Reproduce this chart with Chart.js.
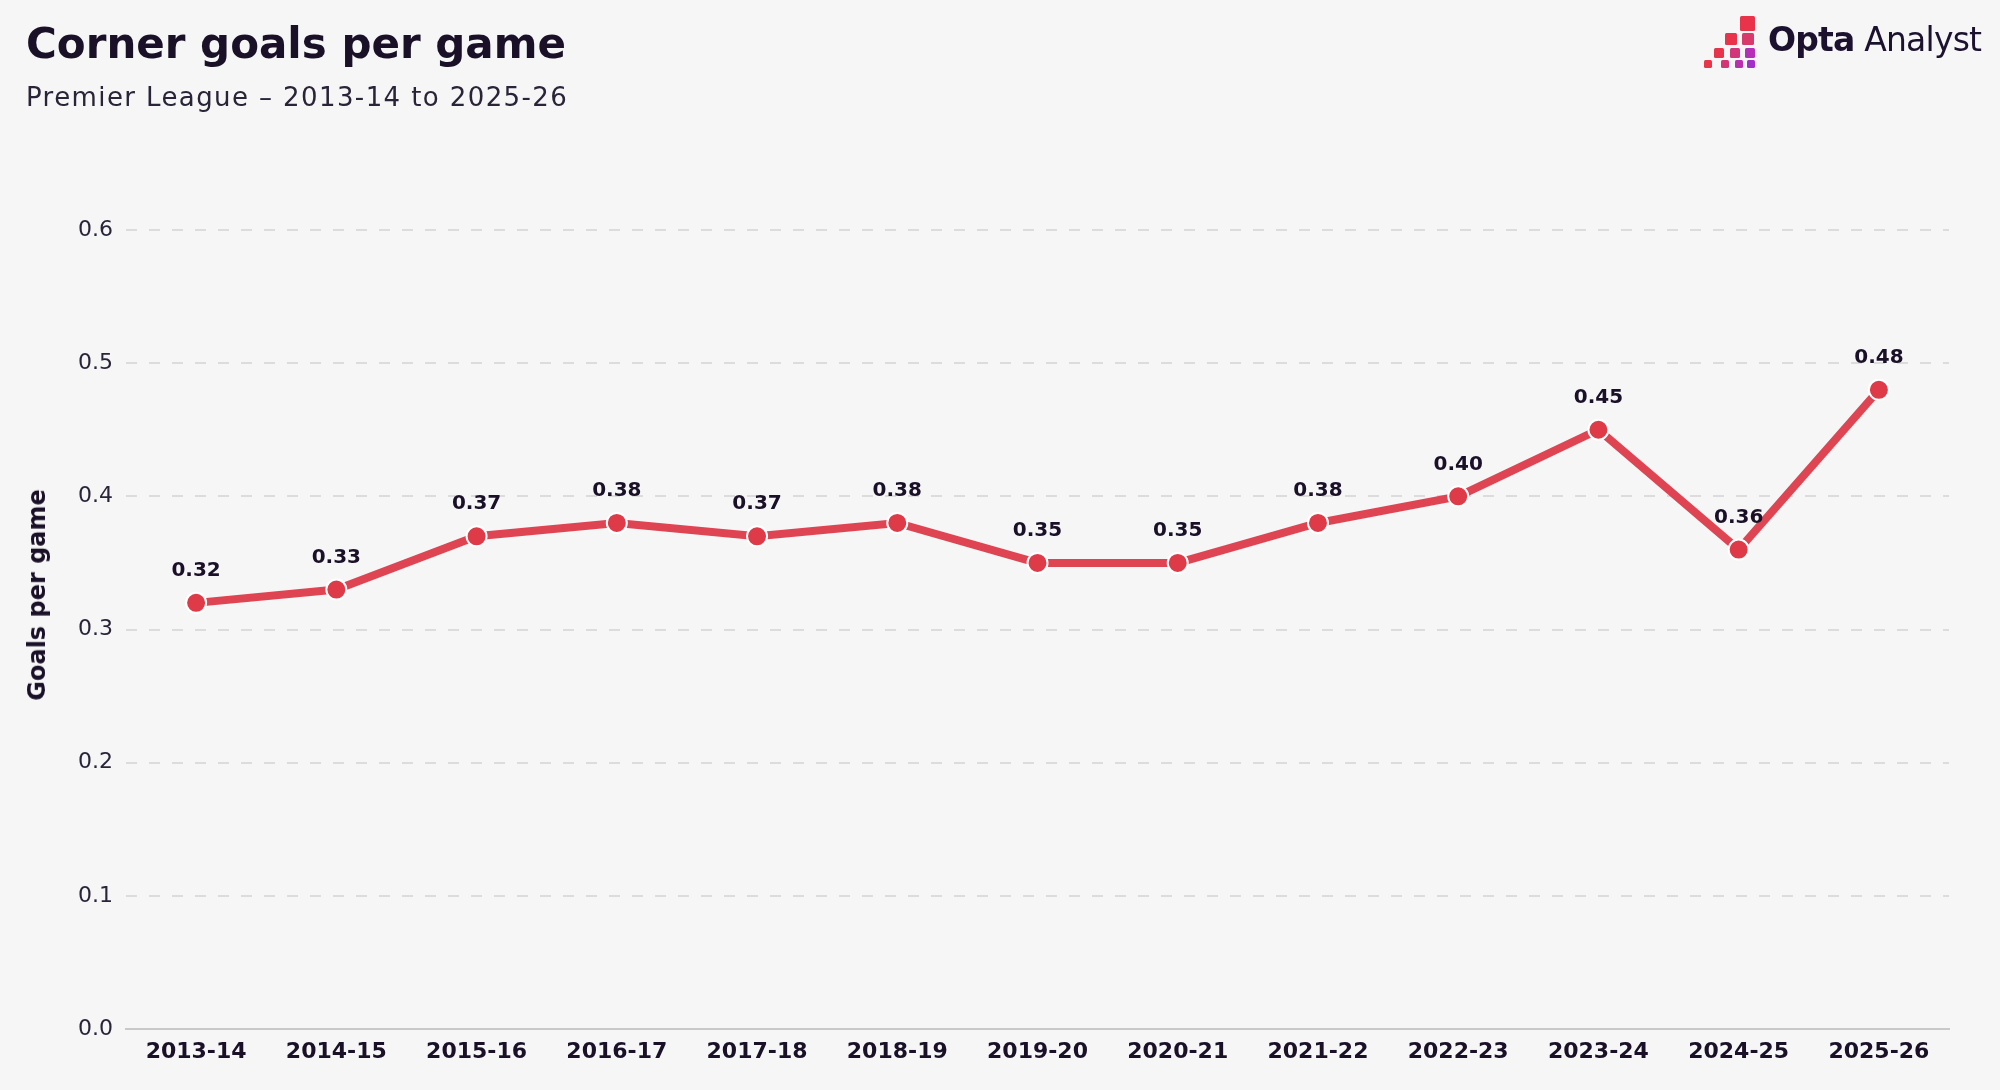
<!DOCTYPE html>
<html>
<head>
<meta charset="utf-8">
<script src="https://cdn.jsdelivr.net/npm/chart.js@4.4.1/dist/chart.umd.min.js"></script>
<style>
  html, body { margin: 0; padding: 0; background: #f6f6f6; }
  #wrap { position: relative; width: 2000px; height: 1090px; overflow: hidden; background: #f6f6f6;
          font-family: "DejaVu Sans", sans-serif; color: #1a1027; }
  #chart { position: absolute; left: 0; top: 0; }
  .title { position: absolute; left: 26px; top: 23px; font-size: 42px; font-weight: bold; line-height: 1; white-space: nowrap; }
  .subtitle { position: absolute; left: 26px; top: 84px; font-size: 26px; line-height: 1; letter-spacing: 1.4px; color: #2a2438; white-space: nowrap; }
  .ytitle { position: absolute; left: 37px; top: 595px; transform: translate(-50%, -50%) rotate(-90deg);
            font-size: 24px; font-weight: bold; line-height: 1; white-space: nowrap; }
  .logo-text { position: absolute; left: 1768px; top: 23px; font-size: 33px; letter-spacing: -0.8px; line-height: 1; white-space: nowrap; color: #1c1230; }
  .logo-text b { font-weight: bold; }
  .logo-mark { position: absolute; left: 0; top: 0; }
</style>
</head>
<body>
<div id="wrap">
  <canvas id="chart" width="2000" height="1090"></canvas>
  <div class="title">Corner goals per game</div>
  <div class="subtitle">Premier League – 2013-14 to 2025-26</div>
  <div class="ytitle">Goals per game</div>
  <svg class="logo-mark" width="2000" height="90">
    <rect x="1740" y="16" width="15" height="15" rx="1.5" fill="#e8334a"/>
    <rect x="1725" y="33" width="12" height="12" rx="1.5" fill="#e8334a"/>
    <rect x="1742" y="33" width="12" height="12" rx="1.5" fill="#d83a6c"/>
    <rect x="1714" y="48" width="10" height="10" rx="1.5" fill="#e8344a"/>
    <rect x="1730" y="48" width="10" height="10" rx="1.5" fill="#d2357a"/>
    <rect x="1745" y="48" width="10" height="10" rx="1.5" fill="#b62fb8"/>
    <rect x="1704" y="60" width="8" height="8" rx="1.5" fill="#e8354a"/>
    <rect x="1721" y="60" width="8" height="8" rx="1.5" fill="#d33575"/>
    <rect x="1735" y="60" width="8" height="8" rx="1.5" fill="#b92fae"/>
    <rect x="1747" y="60" width="8" height="8" rx="1.5" fill="#a52dcc"/>
  </svg>
  <div class="logo-text"><b>Opta</b> Analyst</div>
</div>
<script>
const seasons = ["2013-14","2014-15","2015-16","2016-17","2017-18","2018-19","2019-20","2020-21","2021-22","2022-23","2023-24","2024-25","2025-26"];
const goalsPerGame = [0.32, 0.33, 0.37, 0.38, 0.37, 0.38, 0.35, 0.35, 0.38, 0.40, 0.45, 0.36, 0.48];
const yMin = 0;
const yMax = 0.6;
const yStep = 0.1;

const dataLabels = {
  id: 'dataLabels',
  afterDatasetsDraw(chart) {
    const ctx = chart.ctx;
    const meta = chart.getDatasetMeta(0);
    ctx.save();
    ctx.font = 'bold 20px "DejaVu Sans"';
    ctx.fillStyle = '#1a1027';
    ctx.textAlign = 'center';
    ctx.textBaseline = 'middle';
    meta.data.forEach((pt, i) => {
      ctx.fillText(goalsPerGame[i].toFixed(2), pt.x, pt.y - 32);
    });
    ctx.restore();
  }
};

new Chart(document.getElementById('chart'), {
  type: 'line',
  data: {
    labels: seasons,
    datasets: [{
      data: goalsPerGame,
      borderColor: '#df4452',
      borderWidth: 8,
      tension: 0,
      pointRadius: 10,
      pointHoverRadius: 10,
      pointBackgroundColor: '#de3a48',
      pointBorderColor: '#ffffff',
      pointBorderWidth: 2
    }]
  },
  options: {
    responsive: false,
    animation: false,
    devicePixelRatio: 1,
    layout: { padding: { left: 0, right: 51, top: 230, bottom: 0 } },
    plugins: { legend: { display: false }, tooltip: { enabled: false } },
    scales: {
      x: {
        offset: true,
        grid: { display: false, drawTicks: false, offset: true },
        border: { display: true, color: '#c9c9c9', width: 2 },
        ticks: { color: '#1a1027', font: { family: 'DejaVu Sans', size: 22, weight: 'bold' }, padding: 10, maxRotation: 0, autoSkip: false },
        afterFit(scale) { scale.height = 61; }
      },
      y: {
        min: yMin, max: yMax,
        grid: {
          drawTicks: false,
          color: (c) => (c.tick && c.tick.value === 0) ? 'rgba(0,0,0,0)' : '#dcdcdc',
          lineWidth: 2
        },
        border: { display: false, dash: [11, 12] },
        ticks: {
          stepSize: yStep,
          color: '#2a2438',
          padding: 13,
          font: { family: 'DejaVu Sans', size: 22 },
          callback: (v) => Number(v).toFixed(1)
        },
        afterFit(scale) { scale.width = 126; }
      }
    }
  },
  plugins: [dataLabels]
});
</script>
</body>
</html>
